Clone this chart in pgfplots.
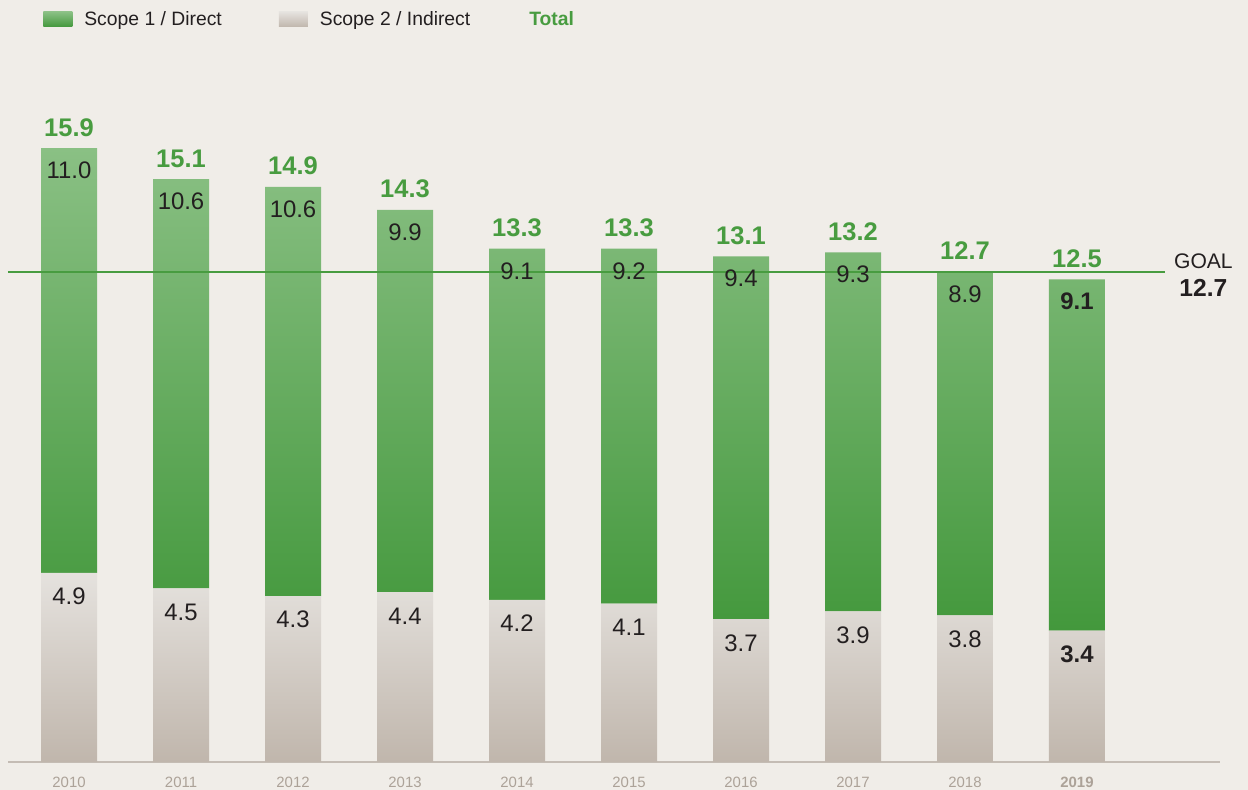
\documentclass[border=0pt]{standalone}
\usepackage{pgfplots}
\pgfplotsset{compat=1.18}
\usepackage{pgfplotstable}
\usepackage{fontspec}
\setmainfont{Liberation Sans}

\definecolor{bg}{RGB}{240,237,232}
\definecolor{gtop}{RGB}{138,192,132}
\definecolor{gbot}{RGB}{67,152,60}
\definecolor{stop}{RGB}{229,226,222}
\definecolor{sbot}{RGB}{192,182,172}
\definecolor{tgreen}{RGB}{72,156,64}
\definecolor{txt}{RGB}{35,31,32}
\definecolor{yr}{RGB}{172,162,152}
\definecolor{base}{RGB}{196,188,180}

% emissions per year: scope 1, scope 2, total
\pgfplotstableread{
x s1   s2  tot
0 11.0 4.9 15.9
1 10.6 4.5 15.1
2 10.6 4.3 14.9
3 9.9  4.4 14.3
4 9.1  4.2 13.3
5 9.2  4.1 13.3
6 9.4  3.7 13.1
7 9.3  3.9 13.2
8 8.9  3.8 12.7
9 9.1  3.4 12.5
}\emis

\pgfplotsset{
  frame/.style={
    scale only axis, width=24.24cm, height=15.24cm,
    xmin=-0.545, xmax=10.277, ymin=0, ymax=19.74,
    at={(0.16cm,0.56cm)}, anchor=south west,
    /pgf/number format/assume math mode=true,
  },
  valfmt/.style={nodes near coords={\ifdim\idx pt>8.5pt\bfseries\fi\pgfmathprintnumber[fixed,fixed zerofill,precision=1]{\pgfplotspointmeta}},
    visualization depends on={\thisrow{x} \as \idx}},
}

\begin{document}
\begin{tikzpicture}
\useasboundingbox (0,0) rectangle (24.96,15.8);
\fill[bg] (0,0) rectangle (24.96,15.8);

\begin{axis}[frame,
    ybar stacked, bar width=0.5,
    axis y line=none, axis x line*=bottom,
    x axis line style={-, draw=base, line width=1.1pt},
    xtick={0,...,9},
    xticklabels={2010,2011,2012,2013,2014,2015,2016,2017,2018,\textbf{2019}},
    major tick length=0pt,
    xticklabel style={font=\fontsize{8.5}{10}\selectfont, text=yr, yshift=-5pt},
    legend columns=3,
    legend style={at={(0,1)}, anchor=west, xshift=0.7cm, yshift=-0.39cm,
      draw=none, fill=none, inner sep=0pt, nodes={inner sep=0pt},
      font=\fontsize{11}{13}\selectfont, text=txt,
      /tikz/every odd column/.append style={column sep=0.24cm},
      /tikz/every even column/.append style={column sep=1.14cm}},
    legend cell align=left,
  ]
  \addplot[forget plot, draw=none, top color=stop, bottom color=sbot]
    table[x=x, y=s2] {\emis};
  \addplot[forget plot, draw=none, top color=gtop, bottom color=gbot]
    table[x=x, y=s1] {\emis};
  \addlegendimage{draw=none, legend image code/.code={\path[draw=none, top color=gtop, bottom color=gbot] (0cm,-0.15cm) rectangle (0.58cm,0.15cm);}}
  \addlegendentry{Scope 1 / Direct}
  \addlegendimage{draw=none, legend image code/.code={\path[draw=none, top color=stop, bottom color=sbot] (0cm,-0.15cm) rectangle (0.58cm,0.15cm);}}
  \addlegendentry{Scope 2 / Indirect}
  \addlegendimage{empty legend}
  \addlegendentry{\hspace*{-0.2cm}\textcolor{tgreen}{\bfseries Total}}
\end{axis}

\begin{axis}[frame, hide axis, clip=false]
  % scope 2 labels at the top of the grey part
  \addplot[draw=none, mark=none, point meta=explicit, valfmt,
    every node near coord/.append style={anchor=base, yshift=-0.64cm,
      font=\fontsize{13.6}{15}\selectfont, text=txt}]
    table[x=x, y=s2, meta=s2] {\emis};
  % scope 1 labels at the top of the green part
  \addplot[draw=none, mark=none, point meta=explicit, valfmt,
    every node near coord/.append style={anchor=base, yshift=-0.61cm,
      font=\fontsize{13.6}{15}\selectfont, text=txt}]
    table[x=x, y=tot, meta=s1] {\emis};
  % totals above the bars
  \addplot[draw=none, mark=none, point meta=y,
    nodes near coords={\pgfmathprintnumber[fixed,fixed zerofill,precision=1]{\pgfplotspointmeta}},
    every node near coord/.append style={anchor=base, yshift=0.24cm,
      font=\bfseries\fontsize{14.5}{16}\selectfont, text=tgreen}]
    table[x=x, y=tot] {\emis};
  \addplot[tgreen, line width=1.4pt, mark=none] coordinates {(-0.545,12.7) (9.786,12.7)}
    node[pos=1, anchor=west, xshift=0.04cm, yshift=-0.06cm, align=center, text=txt,
      font=\fontsize{12}{16}\selectfont] {GOAL\\{\bfseries\fontsize{14}{16}\selectfont 12.7}};
\end{axis}
\end{tikzpicture}
\end{document}
